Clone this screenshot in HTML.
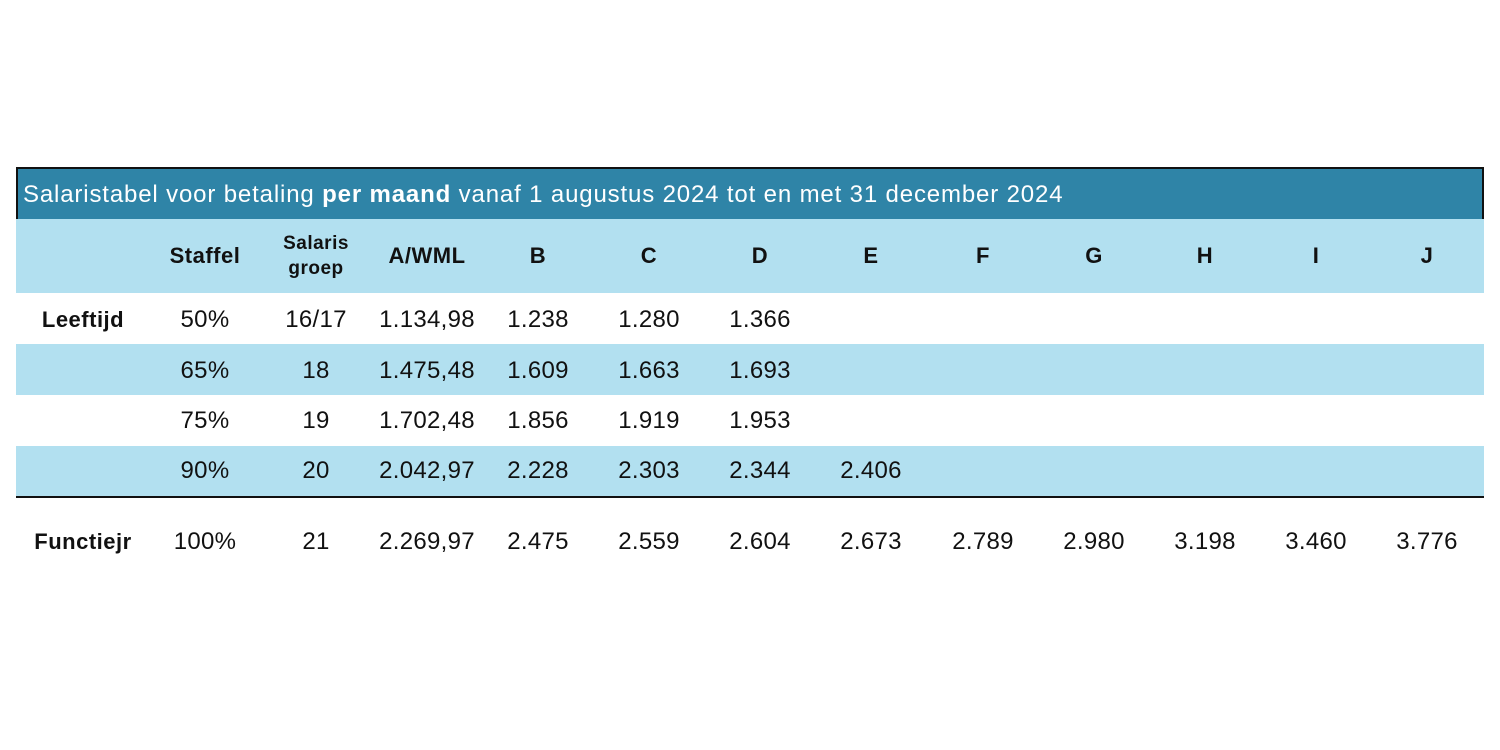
<!DOCTYPE html>
<html><head><meta charset="utf-8"><style>
body{margin:0;width:1500px;height:750px;background:#fff;position:relative;font-family:"Liberation Sans",sans-serif;color:#111;overflow:hidden}
.b{position:absolute;left:16px;width:1468px}
.t{position:absolute;transform:translate(-50%,-50%);white-space:nowrap;font-size:24px;letter-spacing:0.3px}
.h{font-weight:bold;font-size:22px;letter-spacing:0.5px}
</style></head><body>
<div class="b" style="top:167px;height:52px;background:#2F84A7;border-top:2px solid #111;border-left:2px solid #111;border-right:2px solid #111;box-sizing:border-box"></div>
<div style="position:absolute;left:23px;top:181px;color:#fff;font-size:24px;letter-spacing:0.85px;white-space:nowrap">Salaristabel voor betaling <b>per maand</b> vanaf 1 augustus 2024 tot en met 31 december 2024</div>
<div class="b" style="top:219px;height:74px;background:#B2E0F0"></div>
<div class="b" style="top:344px;height:51px;background:#B2E0F0"></div>
<div class="b" style="top:446px;height:51px;background:#B2E0F0"></div>
<div class="b" style="top:496px;height:2px;background:#111"></div>
<div id="c"></div>
<script>
var xs=[83,205,316,427,538,649,760,871,983,1094,1205,1316,1427];
var rows=[
[256,["","Staffel","Salaris<br>groep","A/WML","B","C","D","E","F","G","H","I","J"],1],
[320,["Leeftijd","50%","16/17","1.134,98","1.238","1.280","1.366"]],
[371,["","65%","18","1.475,48","1.609","1.663","1.693"]],
[421,["","75%","19","1.702,48","1.856","1.919","1.953"]],
[471,["","90%","20","2.042,97","2.228","2.303","2.344","2.406"]],
[542,["Functiejr","100%","21","2.269,97","2.475","2.559","2.604","2.673","2.789","2.980","3.198","3.460","3.776"]]];
var h="";
rows.forEach(function(r){r[1].forEach(function(s,i){if(!s)return;
var bold=r[2]||i==0;var st="left:"+xs[i]+"px;top:"+r[0]+"px;";
if(i==2&&r[2])st+="font-size:19px;line-height:25px;text-align:center;";
h+='<div class="t'+(bold?' h':'')+'" style="'+st+'">'+s+'</div>';});});
document.getElementById("c").innerHTML=h;
</script>
</body></html>
